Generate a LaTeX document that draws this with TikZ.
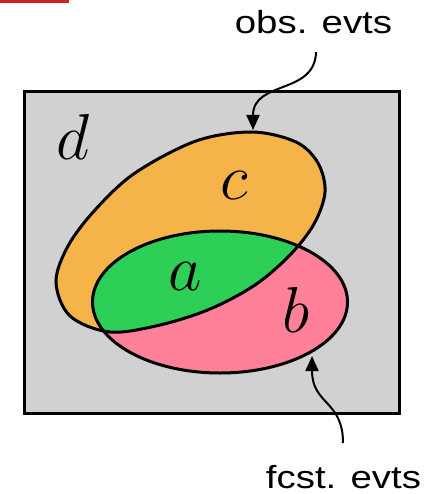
\RequirePackage{fix-cm}
\documentclass[tikz,border=0pt]{standalone}
\usepackage{fontspec}
\setsansfont{Liberation Sans}
\usetikzlibrary{arrows.meta}
\definecolor{boxgrey}{HTML}{D1D1D1}
\definecolor{setorange}{HTML}{F4B44A}
\definecolor{setgreen}{HTML}{2DCF56}
\definecolor{setpink}{HTML}{FE8199}
\definecolor{barred}{HTML}{CC2229}
\tikzset{
  outline/.style={draw=black, line width=3pt},
  setlabel/.style={font=\fontsize{65}{65}\selectfont, anchor=base, inner sep=0pt},
  sidelabel/.style={font=\sffamily\fontsize{32}{32}\selectfont, anchor=base, inner sep=0pt},
  pointer/.style={draw=black, line width=2pt, -{Triangle[length=15pt,width=13pt]}}
}
\def\orangepath{plot[smooth cycle, tension=0.55] coordinates {
  (252,132) (296,142) (318,163) (325,192) (314,224) (290,255) (255,285)
  (210,309) (160,325) (110,332) (70,316) (56,282) (68,246) (95,210)
  (135,173) (196,141)}}
\def\pinkpath{(220,302) ellipse [x radius=127.5, y radius=71]}
\begin{document}
\begin{tikzpicture}[x=1pt, y=-1pt]
  \useasboundingbox (0,0) rectangle (425,494);
  \fill[barred] (0,0) rectangle (69,3.5);
  \node[outline, fill=boxgrey, minimum width=375pt, minimum height=322pt, inner sep=0pt, anchor=north west] (universe) at (23,90) {};
  \fill[setorange] \orangepath;
  \fill[setpink] \pinkpath;
  \begin{scope}
    \clip \orangepath;
    \fill[setgreen] \pinkpath;
  \end{scope}
  \draw[line width=3pt] \orangepath;
  \draw[line width=3pt] \pinkpath;
  \node[setlabel] (d) at (73,160) {$d$};
  \node[setlabel] (c) at (234,200) {$c$};
  \node[setlabel] (a) at (185,290) {$a$};
  \node[setlabel] (b) at (296,332) {$b$};
  \node[sidelabel] (obs) at (313.5,34) {\scalebox{1.2}[1]{obs. evts}};
  \node[sidelabel] (fcst) at (343.5,488) {\scalebox{1.2}[1]{fcst. evts}};
  \coordinate (obsStart) at (316,52);
  \coordinate (obsTip) at (253,130);
  \coordinate (fcstStart) at (343,443);
  \coordinate (fcstTip) at (312,356);
  \draw[pointer] (obsStart) .. controls (315,95) and (253,80) .. (obsTip);
  \draw[pointer] (fcstStart) .. controls (343,400) and (312,405) .. (fcstTip);
\end{tikzpicture}
\end{document}
